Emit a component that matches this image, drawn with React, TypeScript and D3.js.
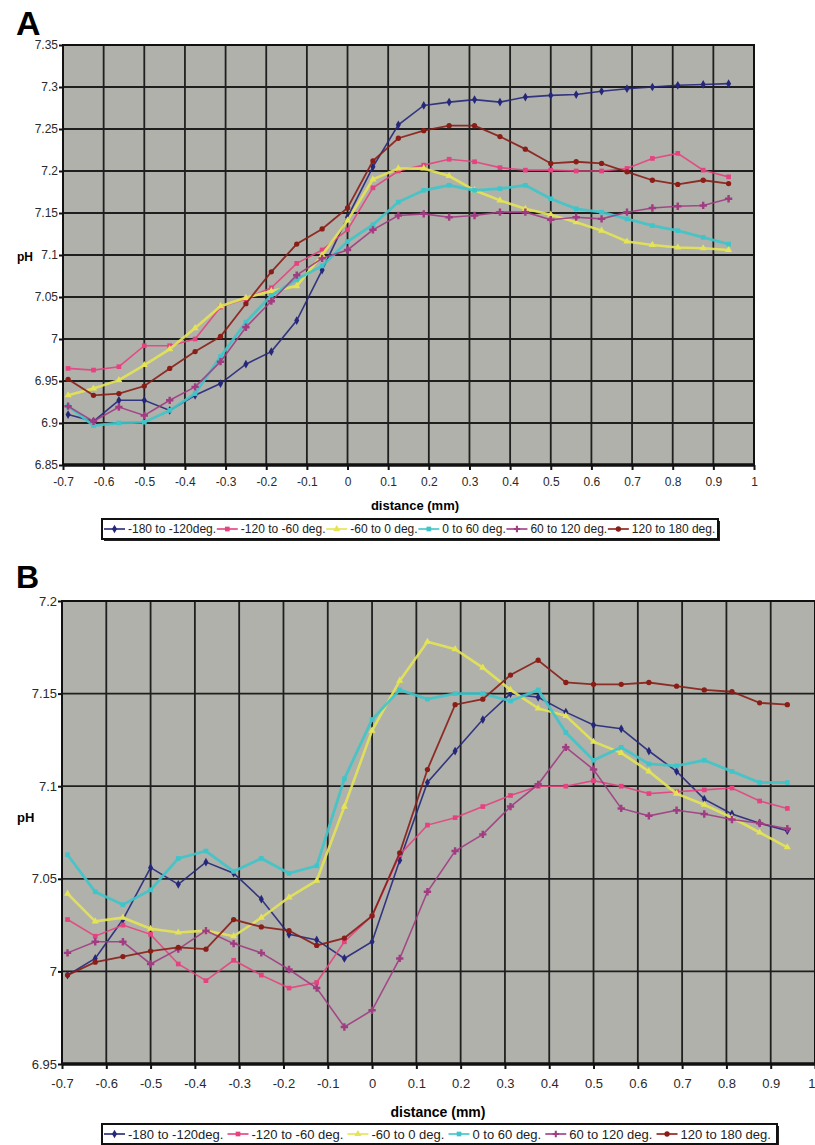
import React, { useEffect, useRef } from 'react';
import * as d3 from 'd3';

// distance (mm) of each sample point, shared by both panels
const distance = [
  -0.6875, -0.625, -0.5625, -0.5, -0.4375, -0.375, -0.3125, -0.25, -0.1875,
  -0.125, -0.0625, 0, 0.0625, 0.125, 0.1875, 0.25, 0.3125, 0.375, 0.4375,
  0.5, 0.5625, 0.625, 0.6875, 0.75, 0.8125, 0.875, 0.9375,
];

const xTicks = [-0.7, -0.6, -0.5, -0.4, -0.3, -0.2, -0.1, 0, 0.1, 0.2, 0.3, 0.4, 0.5, 0.6, 0.7, 0.8, 0.9, 1];
const yTicksA = [6.85, 6.9, 6.95, 7, 7.05, 7.1, 7.15, 7.2, 7.25, 7.3, 7.35];
const yTicksB = [6.95, 7, 7.05, 7.1, 7.15, 7.2];

const seriesNames = [
  '-180 to -120deg.',
  '-120 to -60 deg.',
  '-60 to 0 deg.',
  '0 to 60 deg.',
  '60 to 120 deg.',
  '120 to 180 deg.',
];

// Panel A
const a180to120 = [6.91, 6.902, 6.927, 6.927, 6.915, 6.933, 6.947, 6.97, 6.985, 7.022, 7.082, 7.145, 7.205, 7.255, 7.278, 7.282, 7.285, 7.282, 7.288, 7.29, 7.291, 7.295, 7.298, 7.3, 7.302, 7.303, 7.304];
const a120to60 = [6.965, 6.963, 6.967, 6.992, 6.992, 7.0, 7.038, 7.048, 7.061, 7.09, 7.106, 7.13, 7.18, 7.2, 7.207, 7.214, 7.211, 7.204, 7.201, 7.201, 7.2, 7.2, 7.203, 7.215, 7.221, 7.201, 7.193];
const a60to0 = [6.933, 6.941, 6.951, 6.969, 6.988, 7.013, 7.039, 7.049, 7.057, 7.063, 7.1, 7.141, 7.19, 7.203, 7.203, 7.194, 7.177, 7.165, 7.155, 7.148, 7.139, 7.129, 7.116, 7.112, 7.109, 7.108, 7.106];
const a0to60 = [6.92, 6.897, 6.9, 6.901, 6.915, 6.935, 6.979, 7.02, 7.052, 7.071, 7.087, 7.116, 7.136, 7.163, 7.177, 7.183, 7.177, 7.179, 7.183, 7.167, 7.155, 7.151, 7.143, 7.135, 7.129, 7.121, 7.113];
const a60to120 = [6.92, 6.902, 6.919, 6.909, 6.927, 6.943, 6.973, 7.014, 7.045, 7.076, 7.096, 7.106, 7.13, 7.147, 7.149, 7.145, 7.147, 7.151, 7.151, 7.142, 7.145, 7.143, 7.151, 7.156, 7.158, 7.159, 7.167];
const a120to180 = [6.952, 6.933, 6.935, 6.944, 6.965, 6.985, 7.003, 7.042, 7.08, 7.113, 7.131, 7.156, 7.212, 7.239, 7.248, 7.254, 7.254, 7.241, 7.226, 7.209, 7.211, 7.209, 7.199, 7.189, 7.184, 7.189, 7.185];

// Panel B
const b180to120 = [6.998, 7.007, 7.028, 7.056, 7.047, 7.059, 7.053, 7.039, 7.02, 7.017, 7.007, 7.016, 7.06, 7.102, 7.119, 7.136, 7.15, 7.148, 7.14, 7.133, 7.131, 7.119, 7.108, 7.093, 7.085, 7.08, 7.076];
const b120to60 = [7.028, 7.019, 7.025, 7.02, 7.004, 6.995, 7.006, 6.998, 6.991, 6.994, 7.016, 7.03, 7.063, 7.079, 7.083, 7.089, 7.095, 7.1, 7.1, 7.103, 7.1, 7.096, 7.097, 7.098, 7.099, 7.092, 7.088];
const b60to0 = [7.042, 7.027, 7.029, 7.023, 7.021, 7.022, 7.019, 7.029, 7.04, 7.049, 7.089, 7.13, 7.157, 7.178, 7.174, 7.164, 7.152, 7.142, 7.138, 7.124, 7.118, 7.108, 7.096, 7.09, 7.083, 7.075, 7.067];
const b0to60 = [7.063, 7.043, 7.036, 7.044, 7.061, 7.065, 7.054, 7.061, 7.053, 7.057, 7.104, 7.136, 7.152, 7.147, 7.15, 7.15, 7.146, 7.152, 7.129, 7.114, 7.121, 7.112, 7.111, 7.114, 7.108, 7.102, 7.102];
const b60to120 = [7.01, 7.016, 7.016, 7.004, 7.012, 7.022, 7.015, 7.01, 7.001, 6.991, 6.97, 6.979, 7.007, 7.043, 7.065, 7.074, 7.089, 7.101, 7.121, 7.109, 7.088, 7.084, 7.087, 7.085, 7.082, 7.08, 7.077];
const b120to180 = [6.998, 7.005, 7.008, 7.011, 7.013, 7.012, 7.028, 7.024, 7.022, 7.014, 7.018, 7.03, 7.064, 7.109, 7.144, 7.147, 7.16, 7.168, 7.156, 7.155, 7.155, 7.156, 7.154, 7.152, 7.151, 7.145, 7.144];

const colors = ['#25277a', '#e5427f', '#e4e454', '#3fc5c9', '#a13c82', '#8a1d16'];
const symbols = [d3.symbolDiamond, d3.symbolSquare, d3.symbolTriangle, d3.symbolSquare, d3.symbolCross, d3.symbolCircle];
const lineWidths = [1.6, 1.6, 2.6, 2.8, 1.6, 1.8];

const FONT = '"Liberation Sans", Arial, sans-serif';
const BG = '#b0b1ab';
const GRID = '#1f1f1f';

interface PanelCfg {
  label: string;
  labelY: number;
  labelSize: number;
  left: number;
  right: number;
  top: number;
  bottom: number;
  yDomain: [number, number];
  yTicks: number[];
  series: number[][];
  fontSize: number;
  xPad: number;
  pHY: number;
  titleX: number;
  titleY: number;
  legend: { x: number; y: number; w: number; h: number; fontSize: number };
}

const panels: PanelCfg[] = [
  {
    label: 'A', labelY: 35, labelSize: 34,
    left: 63, right: 754, top: 45, bottom: 465,
    yDomain: [6.85, 7.35], yTicks: yTicksA,
    series: [a180to120, a120to60, a60to0, a0to60, a60to120, a120to180],
    fontSize: 12, xPad: 7, pHY: 261, titleX: 415, titleY: 510,
    legend: { x: 102, y: 519, w: 616, h: 20, fontSize: 12 },
  },
  {
    label: 'B', labelY: 588, labelSize: 32,
    left: 62, right: 815, top: 601, bottom: 1064,
    yDomain: [6.95, 7.2], yTicks: yTicksB,
    series: [b180to120, b120to60, b60to0, b0to60, b60to120, b120to180],
    fontSize: 13, xPad: 10, pHY: 822, titleX: 438, titleY: 1117,
    legend: { x: 102, y: 1124, w: 675, h: 20, fontSize: 13 },
  },
];

function drawPanel(svg: d3.Selection<SVGSVGElement, unknown, null, undefined>, p: PanelCfg) {
  const x = d3.scaleLinear().domain([-0.7, 1]).range([p.left, p.right]);
  const y = d3.scaleLinear().domain(p.yDomain).range([p.bottom, p.top]);
  const g = svg.append('g');

  g.append('rect')
    .attr('x', p.left).attr('y', p.top)
    .attr('width', p.right - p.left).attr('height', p.bottom - p.top)
    .attr('fill', BG);

  // grid
  g.selectAll('.hgrid').data(p.yTicks).join('line')
    .attr('x1', p.left).attr('x2', p.right)
    .attr('y1', d => y(d)).attr('y2', d => y(d))
    .attr('stroke', GRID).attr('stroke-width', 1.8);
  g.selectAll('.vgrid').data(xTicks).join('line')
    .attr('x1', d => x(d)).attr('x2', d => x(d))
    .attr('y1', p.top).attr('y2', p.bottom)
    .attr('stroke', GRID).attr('stroke-width', 1.8);

  // axes
  const yAxis = g.append('g')
    .attr('transform', `translate(${p.left},0)`)
    .call(d3.axisLeft(y).tickValues(p.yTicks).tickFormat(d => String(d)).tickSize(4).tickPadding(1));
  const xAxis = g.append('g')
    .attr('transform', `translate(0,${p.bottom})`)
    .call(d3.axisBottom(x).tickValues(xTicks).tickFormat(d => String(d)).tickSize(5).tickPadding(p.xPad));
  [yAxis, xAxis].forEach(ax => {
    ax.attr('font-family', FONT).attr('font-size', p.fontSize);
    ax.selectAll('text').attr('fill', '#2a2a2a');
    ax.selectAll('line').attr('stroke', '#111').attr('stroke-width', 2);
    ax.select('.domain').remove();
  });
  // keep the last label inside the page when the plot runs to the edge
  if (x(1) + 4 > 815) {
    xAxis.selectAll<SVGTextElement, number>('text')
      .filter(d => d === 1)
      .attr('text-anchor', 'end');
  }

  // frame
  g.append('rect')
    .attr('x', p.left).attr('y', p.top)
    .attr('width', p.right - p.left).attr('height', p.bottom - p.top)
    .attr('fill', 'none').attr('stroke', '#111').attr('stroke-width', 2);
  g.append('line')
    .attr('x1', p.left).attr('x2', p.right)
    .attr('y1', p.bottom).attr('y2', p.bottom)
    .attr('stroke', '#111').attr('stroke-width', 3.5);

  // series
  const line = d3.line<number>().x((_, i) => x(distance[i])).y(d => y(d));
  p.series.forEach((vals, s) => {
    g.append('path')
      .datum(vals)
      .attr('d', line)
      .attr('fill', 'none')
      .attr('stroke', colors[s])
      .attr('stroke-width', lineWidths[s])
      .attr('stroke-opacity', 0.9);
    const sym = d3.symbol().type(symbols[s]).size(s === 4 ? 30 : 22);
    g.selectAll(`.m${s}`).data(vals).join('path')
      .attr('transform', (d, i) => `translate(${x(distance[i])},${y(d)})`)
      .attr('d', sym)
      .attr('fill', colors[s]);
  });

  // labels
  svg.append('text')
    .attr('x', 16).attr('y', p.labelY)
    .attr('font-family', FONT).attr('font-weight', 'bold').attr('font-size', p.labelSize)
    .text(p.label);
  svg.append('text')
    .attr('x', 17).attr('y', p.pHY)
    .attr('font-family', FONT).attr('font-weight', 'bold').attr('font-size', p.fontSize)
    .text('pH');
  svg.append('text')
    .attr('x', p.titleX).attr('y', p.titleY)
    .attr('text-anchor', 'middle')
    .attr('font-family', FONT).attr('font-weight', 'bold').attr('font-size', p.fontSize + 1)
    .text('distance (mm)');

  // legend
  const L = p.legend;
  const lg = svg.append('g').attr('transform', `translate(${L.x},${L.y})`);
  lg.append('rect').attr('x', 2).attr('y', 2).attr('width', L.w).attr('height', L.h).attr('fill', '#222');
  lg.append('rect').attr('width', L.w).attr('height', L.h).attr('fill', '#fff').attr('stroke', '#111').attr('stroke-width', 2);
  const sampleW = 24;
  const texts = seriesNames.map(name =>
    lg.append('text')
      .attr('y', L.h / 2 + L.fontSize * 0.36)
      .attr('font-family', FONT).attr('font-size', L.fontSize).attr('fill', '#222')
      .text(name)
  );
  const widths = texts.map(t => (t.node() as SVGTextElement).getComputedTextLength());
  const used = d3.sum(widths) + sampleW * seriesNames.length;
  const gap = Math.max(0, (L.w - 4 - used) / seriesNames.length);
  let cx = 2;
  seriesNames.forEach((_, s) => {
    const mid = L.h / 2;
    lg.append('line')
      .attr('x1', cx).attr('x2', cx + sampleW - 3)
      .attr('y1', mid).attr('y2', mid)
      .attr('stroke', colors[s]).attr('stroke-width', 1.6);
    lg.append('path')
      .attr('transform', `translate(${cx + (sampleW - 3) / 2},${mid})`)
      .attr('d', d3.symbol().type(symbols[s]).size(22))
      .attr('fill', colors[s]);
    texts[s].attr('x', cx + sampleW);
    cx += sampleW + widths[s] + gap;
  });
}

const App: React.FC = () => {
  const svgRef = useRef<SVGSVGElement>(null);

  useEffect(() => {
    if (!svgRef.current) return;
    const svg = d3.select(svgRef.current);
    svg.selectAll('*').remove();
    panels.forEach(p => drawPanel(svg, p));
  }, []);

  return (
    <div style={{ position: 'absolute', left: 0, top: 0, width: 815, height: 1145, background: '#fff' }}>
      <svg ref={svgRef} width={815} height={1145} style={{ display: 'block' }} />
    </div>
  );
};

export default App;
